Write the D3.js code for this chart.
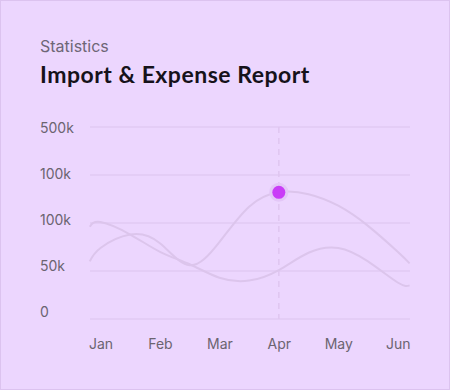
<!DOCTYPE html>
<html>
<head>
<meta charset="utf-8">
<script src="https://cdn.jsdelivr.net/npm/d3@7"></script>
<style>
  body { margin: 0; background: #ecd6fe; }
  .tick text { font-family: Inter, "Noto Sans", sans-serif; }
</style>
</head>
<body>
<div id="chart"></div>
<script>
var months = ["Jan", "Feb", "Mar", "Apr", "May", "Jun"];
var yTicks = [0, 50, 100, 150, 200];
var yTickLabels = ["0", "50k", "100k", "100k", "500k"];

var samplePos = [-0.18, 0, 0.5, 1, 1.5, 2, 2.5, 3, 3.5, 4, 4.5, 5, 5.2];
var importVals  = [60, 74, 88, 79, 56, 80, 117, 132, 130, 118, 97, 70, 58];
var expenseVals = [96, 101, 88, 70, 57, 43, 40, 51, 69, 74, 60, 38, 35];

var highlightMonth = 3;   // Apr
var highlightValue = 132;

var W = 450, H = 390;
var plot = {left: 90, right: 410, top: 127, bottom: 319};

var svg = d3.select("#chart").append("svg")
    .attr("width", W)
    .attr("height", H);

svg.append("rect")
    .attr("x", 0.5).attr("y", 0.5)
    .attr("width", W - 1).attr("height", H - 1)
    .attr("fill", "#ecd6fe")
    .attr("stroke", "#dcc3ef");

svg.append("text")
    .attr("x", 40).attr("y", 52)
    .attr("font-family", "Inter, sans-serif")
    .attr("font-size", 16)
    .attr("fill", "#6e6676")
    .text("Statistics");

svg.append("text")
    .attr("x", 40).attr("y", 83)
    .attr("font-family", "Lato, sans-serif")
    .attr("font-weight", 700)
    .attr("font-size", 23)
    .attr("letter-spacing", 0.5)
    .attr("fill", "#16121a")
    .text("Import & Expense Report");

var xScale = d3.scaleLinear().domain([0, 5]).range([100.5, 397.7]),
    yScale = d3.scaleLinear().domain([0, 200]).range([plot.bottom, plot.top]),
    yLabelScale = d3.scaleLinear().domain([0, 200]).range([312, 128]);

// grid
svg.append("g")
  .selectAll("line")
  .data(yTicks)
  .enter().append("line")
    .attr("x1", plot.left).attr("x2", plot.right)
    .attr("y1", function(d) { return yScale(d); })
    .attr("y2", function(d) { return yScale(d); })
    .attr("stroke", "#dcc4ee")
    .attr("stroke-width", 1);

// y labels
var yAxis = d3.axisLeft(yLabelScale)
    .tickValues(yTicks)
    .tickSize(0)
    .tickFormat(function(d, i) { return yTickLabels[i]; });

var gy = svg.append("g")
    .attr("transform", "translate(40,0)")
    .call(yAxis);
gy.select(".domain").remove();
gy.selectAll("text")
    .attr("text-anchor", "start")
    .attr("x", 0)
    .attr("font-size", 14)
    .attr("fill", "#6b6470");

// x labels
var xAxis = d3.axisBottom(xScale)
    .tickValues(d3.range(months.length))
    .tickSize(0)
    .tickFormat(function(d) { return months[d]; });

var gx = svg.append("g")
    .attr("transform", "translate(0,336)")
    .call(xAxis);
gx.select(".domain").remove();
gx.selectAll("text")
    .attr("font-size", 14)
    .attr("fill", "#6b6470");

// dashed marker
svg.append("line")
    .attr("x1", xScale(highlightMonth)).attr("x2", xScale(highlightMonth))
    .attr("y1", plot.top).attr("y2", plot.bottom)
    .attr("stroke", "#dfc6f0")
    .attr("stroke-width", 1.5)
    .attr("stroke-dasharray", "6,5");

var line = d3.line()
    .x(function(d, i) { return xScale(samplePos[i]); })
    .y(function(d) { return yScale(d); })
    .curve(d3.curveNatural);

[expenseVals, importVals].forEach(function(vals) {
  svg.append("path")
      .datum(vals)
      .attr("fill", "none")
      .attr("stroke", "#dcc5ec")
      .attr("stroke-width", 2)
      .attr("d", line);
});

// highlighted point
svg.append("circle")
    .attr("cx", xScale(highlightMonth))
    .attr("cy", yScale(highlightValue))
    .attr("r", 9.5)
    .attr("fill", "#e3c7f7");
svg.append("circle")
    .attr("cx", xScale(highlightMonth))
    .attr("cy", yScale(highlightValue))
    .attr("r", 6.5)
    .attr("fill", "#c93df7");
</script>
</body>
</html>
